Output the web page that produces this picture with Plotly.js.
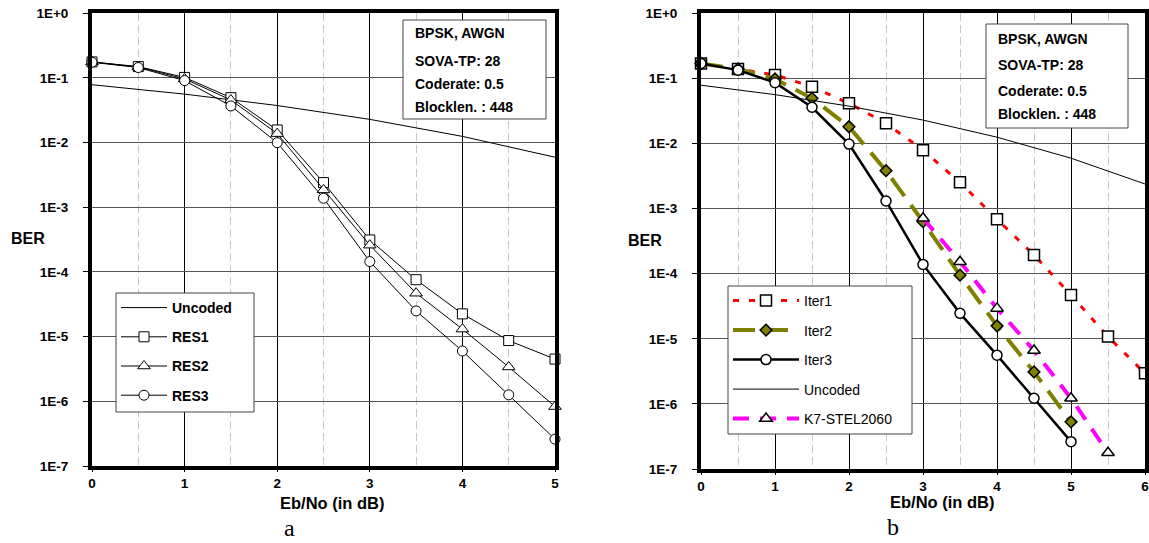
<!DOCTYPE html>
<html>
<head>
<meta charset="utf-8">
<script src="https://cdn.plot.ly/plotly-3.0.1.min.js"></script>
<style>html,body{margin:0;padding:0;background:#fff;}#chart{width:1149px;height:543px;}</style>
</head>
<body>
<div id="chart"></div>
<script>
// ---------- data ----------
const xLeft = [0, 0.5, 1, 1.5, 2, 2.5, 3, 3.5, 4, 4.5, 5];
const res1 = [0.177, 0.150, 0.102, 0.0496, 0.0157, 0.00241, 3.13e-4, 7.6e-5, 2.25e-5, 8.7e-6, 4.5e-6];
const res2 = [0.177, 0.148, 0.097, 0.0457, 0.0138, 0.00186, 2.6e-4, 4.7e-5, 1.31e-5, 3.4e-6, 8.3e-7];
const res3 = [0.175, 0.145, 0.091, 0.0369, 0.0100, 0.00138, 1.45e-4, 2.5e-5, 6.0e-6, 1.26e-6, 2.6e-7];

const xUncodedLeft = [0, 1, 2, 3, 4, 5];
const uncodedLeft = [0.0786, 0.0563, 0.0375, 0.0229, 0.0125, 0.00595];
const xUncodedRight = [0, 1, 2, 3, 4, 5, 6];
const uncodedRight = [0.0786, 0.0563, 0.0375, 0.0229, 0.0125, 0.00595, 0.00239];

const xIter1 = [0, 0.5, 1, 1.5, 2, 2.5, 3, 3.5, 4, 4.5, 5, 5.5, 6];
const iter1 = [0.17, 0.14, 0.113, 0.0746, 0.0414, 0.0204, 0.0079, 0.00253, 6.85e-4, 1.94e-4, 4.7e-5, 1.08e-5, 2.95e-6];
const xIter23 = [0, 0.5, 1, 1.5, 2, 2.5, 3, 3.5, 4, 4.5, 5];
const iter2 = [0.17, 0.14, 0.098, 0.0494, 0.0181, 0.00382, 6.3e-4, 9.5e-5, 1.58e-5, 3.1e-6, 5.3e-7];
const iter3 = [0.17, 0.134, 0.086, 0.036, 0.0098, 0.00131, 1.39e-4, 2.46e-5, 5.6e-6, 1.22e-6, 2.63e-7];
const xK7 = [3, 3.5, 4, 4.5, 5, 5.5];
const k7 = [7.1e-4, 1.53e-4, 2.93e-5, 6.6e-6, 1.22e-6, 1.78e-7];

const yTickVals = [1, 1e-1, 1e-2, 1e-3, 1e-4, 1e-5, 1e-6, 1e-7];
const yTickText = ['1E+0', '1E-1', '1E-2', '1E-3', '1E-4', '1E-5', '1E-6', '1E-7'];
const infoLines = ['BPSK, AWGN', 'SOVA-TP: 28', 'Coderate: 0.5', 'Blocklen. : 448'];

// ---------- helpers ----------
const W = 1149, H = 543;
const fx = p => p / W;
const fy = p => 1 - p / H;
const FONT = 'Liberation Sans, Arial, Helvetica, sans-serif';

function openMarker(symbol, size, lw, fill) {
  return {symbol: symbol, size: size, color: fill || '#ffffff', line: {color: '#000000', width: lw}};
}

const traces = [
  // left panel
  {x: xUncodedLeft, y: uncodedLeft, name: 'Uncoded', mode: 'lines', xaxis: 'x', yaxis: 'y',
   line: {color: '#000', width: 1}, legend: 'legend', legendgroup: 'a0'},
  {x: xLeft, y: res1, name: 'RES1', mode: 'lines+markers', xaxis: 'x', yaxis: 'y',
   line: {color: '#000', width: 1}, marker: openMarker('square', 10, 1), legend: 'legend', legendgroup: 'a1', cliponaxis: false},
  {x: xLeft, y: res2, name: 'RES2', mode: 'lines+markers', xaxis: 'x', yaxis: 'y',
   line: {color: '#000', width: 1}, marker: openMarker('triangle-up', 11, 1), legend: 'legend', legendgroup: 'a2', cliponaxis: false},
  {x: xLeft, y: res3, name: 'RES3', mode: 'lines+markers', xaxis: 'x', yaxis: 'y',
   line: {color: '#000', width: 1}, marker: openMarker('circle', 10, 1), legend: 'legend', legendgroup: 'a3', cliponaxis: false},
  // right panel
  {x: xIter1, y: iter1, name: 'Iter1', mode: 'lines+markers', xaxis: 'x2', yaxis: 'y2',
   line: {color: '#ff0000', width: 3, dash: '6px,10px'}, marker: openMarker('square', 11, 1.5),
   legend: 'legend2', legendgroup: 'b0', cliponaxis: false},
  {x: xIter23, y: iter2, name: 'Iter2', mode: 'lines+markers', xaxis: 'x2', yaxis: 'y2',
   line: {color: '#808000', width: 4, dash: '22px,11px'}, marker: openMarker('diamond', 9, 1.5, '#808000'),
   legend: 'legend2', legendgroup: 'b1', cliponaxis: false},
  {x: xIter23, y: iter3, name: 'Iter3', mode: 'lines+markers', xaxis: 'x2', yaxis: 'y2',
   line: {color: '#000', width: 2.5}, marker: openMarker('circle', 10, 1.5),
   legend: 'legend2', legendgroup: 'b2', cliponaxis: false},
  {x: xUncodedRight, y: uncodedRight, name: 'Uncoded', mode: 'lines', xaxis: 'x2', yaxis: 'y2',
   line: {color: '#000', width: 1}, legend: 'legend2', legendgroup: 'b3'},
  {x: xK7, y: k7, name: 'K7-STEL2060', mode: 'lines+markers', xaxis: 'x2', yaxis: 'y2',
   line: {color: '#ff00ff', width: 4, dash: '16px,11px'}, marker: openMarker('triangle-up', 11, 1.5),
   legend: 'legend2', legendgroup: 'b4', cliponaxis: false}
];

const tickFont = {family: FONT, size: 13.5, color: '#000', weight: 'bold'};

function xAxis(domain, maxX) {
  return {
    domain: domain, range: [0, maxX], tickmode: 'linear', tick0: 0, dtick: 1,
    showgrid: true, gridcolor: '#000', gridwidth: 1, zeroline: false,
    minor: {tick0: 0, dtick: 0.5, showgrid: true, gridcolor: '#c8c8c8', griddash: '8px,4px', gridwidth: 1, ticks: ''},
    showline: true, linecolor: '#000', linewidth: 4, mirror: true,
    ticks: 'outside', ticklen: 2, tickcolor: '#000', tickwidth: 1,
    tickfont: tickFont, ticklabelstandoff: 0, ticklabeloverflow: 'allow', fixedrange: true
  };
}
function yAxis(domain, anchor) {
  return {
    domain: domain, type: 'log', range: [-7, 0], anchor: anchor,
    tickmode: 'array', tickvals: yTickVals, ticktext: yTickText,
    showgrid: true, gridcolor: '#555', gridwidth: 1, zeroline: false,
    showline: true, linecolor: '#000', linewidth: 4, mirror: true,
    ticks: 'outside', ticklen: 5, tickcolor: '#000', tickwidth: 1,
    tickfont: tickFont, ticklabelstandoff: 12, fixedrange: true
  };
}

const annotations = [];
const shapes = [];
function boxShape(x0, x1, y0, y1) {
  shapes.push({type: 'rect', xref: 'paper', yref: 'paper', x0: fx(x0), x1: fx(x1), y0: fy(y1), y1: fy(y0),
    line: {color: '#444', width: 1}, fillcolor: '#ffffff', layer: 'above'});
}
function infoBox(x0, x1, y0, y1, tx, tys) {
  boxShape(x0, x1, y0, y1);
  infoLines.forEach((t, i) => annotations.push({
    text: t, xref: 'paper', yref: 'paper', x: fx(tx), y: fy(tys[i]), xanchor: 'left', yanchor: 'middle',
    showarrow: false, font: {family: FONT, size: 14, color: '#000', weight: 'bold'}
  }));
}
infoBox(403, 546, 20, 119, 413, [33, 61, 84, 107]);
infoBox(986, 1128, 24, 128, 996, [39, 65, 91, 114]);
// legend frames (legends themselves are transparent and sit on top)
boxShape(116, 254, 293, 412);
boxShape(728, 912, 286, 434);

function label(text, x, y, size, family, weight) {
  annotations.push({text: text, xref: 'paper', yref: 'paper', x: fx(x), y: fy(y), xanchor: 'center', yanchor: 'middle',
    showarrow: false, font: {family: family || FONT, size: size, color: '#000', weight: weight || 'bold'}});
}
label('BER', 28, 238, 16);
label('BER', 645, 240, 16);
label('Eb/No (in dB)', 332, 503, 16.5);
label('Eb/No (in dB)', 942, 502, 16.5);
label('a', 289, 528, 24, 'Liberation Serif, Times New Roman, serif', 'normal');
label('b', 893, 527, 24, 'Liberation Serif, Times New Roman, serif', 'normal');

const layout = {
  width: W, height: H, margin: {l: 0, r: 0, t: 0, b: 0},
  paper_bgcolor: '#ffffff', plot_bgcolor: '#ffffff',
  showlegend: true,
  xaxis: Object.assign(xAxis([fx(92), fx(555)], 5), {anchor: 'y'}),
  yaxis: yAxis([fy(466), fy(13.3)], 'x'),
  xaxis2: Object.assign(xAxis([fx(701), fx(1145)], 6), {anchor: 'y2'}),
  yaxis2: yAxis([fy(469), fy(13.3)], 'x2'),
  legend: {x: fx(116), y: fy(292), xanchor: 'left', yanchor: 'top', bgcolor: 'rgba(0,0,0,0)',
    borderwidth: 0, tracegroupgap: 8, itemwidth: 46,
    font: {family: FONT, size: 14, color: '#000', weight: 'bold'}, traceorder: 'grouped'},
  legend2: {x: fx(728), y: fy(285), xanchor: 'left', yanchor: 'top', bgcolor: 'rgba(0,0,0,0)',
    borderwidth: 0, tracegroupgap: 8.3, itemwidth: 66,
    font: {family: FONT, size: 14, color: '#000'}, traceorder: 'grouped'},
  annotations: annotations, shapes: shapes
};

Plotly.newPlot('chart', traces, layout, {staticPlot: true, displayModeBar: false});
</script>
</body>
</html>
